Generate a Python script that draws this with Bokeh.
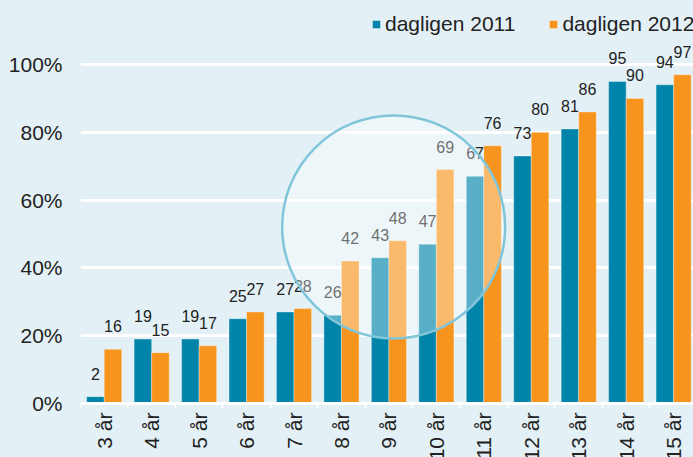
import numpy as np
from bokeh.plotting import figure
from bokeh.models import (ColumnDataSource, Range1d, FixedTicker, LinearAxis,
                          PrintfTickFormatter, Legend, LegendItem)
from bokeh.core.properties import value
from bokeh.embed import file_html
from bokeh.resources import INLINE

# ---- data ----
categories = ["3 år", "4 år", "5 år", "6 år", "7 år", "8 år", "9 år",
              "10 år", "11 år", "12 år", "13 år", "14 år", "15 år"]
dagligen_2011 = [2, 19, 19, 25, 27, 26, 43, 47, 67, 73, 81, 95, 94]
dagligen_2012 = [16, 15, 17, 27, 28, 42, 48, 69, 76, 80, 86, 90, 97]
series_names = ["dagligen 2011", "dagligen 2012"]
y_ticks = [0, 20, 40, 60, 80, 100]

# decoration: highlight circle (category index, percent)
highlight_x = [6.10]
highlight_y = [52.1]

# ---- style ----
BG = "#e3f1f6"
BLUE = "#0084a9"
ORANGE = "#f7941d"
FONT = "Liberation Sans"
TXT = "#222222"

W, H = 693, 457
n = len(categories)
idx = np.arange(n)
src = ColumnDataSource(dict(
    x11=idx - 0.185, x12=idx + 0.185,
    v11=dagligen_2011, v12=dagligen_2012,
    t11=[str(v) for v in dagligen_2011], t12=[str(v) for v in dagligen_2012],
))

p = figure(width=W, height=H, output_backend="svg", toolbar_location=None,
           x_range=Range1d(-0.5, 12.419), y_range=Range1d(-15.93, 118.88),
           x_axis_type=None, min_border_left=80, min_border_right=0,
           min_border_top=0, min_border_bottom=0,
           background_fill_color=BG, border_fill_color=BG, outline_line_color=None)

# y axis
p.yaxis.ticker = FixedTicker(ticks=y_ticks)
p.yaxis.formatter = PrintfTickFormatter(format="%d%%")
p.yaxis.axis_line_color = None
p.yaxis.major_tick_line_color = None
p.yaxis.minor_tick_line_color = None
p.yaxis.major_tick_out = 0
p.yaxis.major_label_standoff = 18
p.yaxis.major_label_text_font = FONT
p.yaxis.major_label_text_font_size = "21px"
p.yaxis.major_label_text_color = TXT

p.ygrid.ticker = FixedTicker(ticks=y_ticks)
p.ygrid.grid_line_color = "white"
p.ygrid.grid_line_width = 3

# x axis line + boundary ticks
tick_axis = LinearAxis(ticker=FixedTicker(ticks=[i - 0.5 for i in range(n + 1)]),
                       fixed_location=0, axis_line_color="white", axis_line_width=3,
                       major_tick_line_color="white", major_tick_line_width=2,
                       major_tick_out=5, major_tick_in=0, minor_tick_line_color=None,
                       major_label_text_color=None)
p.add_layout(tick_axis, "below")

# category labels
label_axis = LinearAxis(ticker=FixedTicker(ticks=list(range(n))),
                        major_label_overrides={i: c for i, c in enumerate(categories)},
                        fixed_location=0, axis_line_color=None,
                        major_tick_line_color=None, minor_tick_line_color=None,
                        major_tick_out=0, major_label_standoff=9,
                        major_label_orientation=np.pi / 2,
                        major_label_text_font=FONT, major_label_text_font_size="21px",
                        major_label_text_color=TXT)
p.add_layout(label_axis, "below")

# bars
r1 = p.vbar(x="x11", top="v11", bottom=0, width=0.37, source=src,
            fill_color=BLUE, line_color="white", line_alpha=0.35, line_width=1)
r2 = p.vbar(x="x12", top="v12", bottom=0, width=0.37, source=src,
            fill_color=ORANGE, line_color="white", line_alpha=0.35, line_width=1)

# value labels
for xs, ys, ts in (("x11", "v11", "t11"), ("x12", "v12", "t12")):
    p.text(x=xs, y=ys, text=ts, source=src, text_align="center",
           text_baseline="bottom", y_offset=-17, text_font=value(FONT),
           text_font_size="16px", text_color=TXT)

# highlight circle
p.scatter(x=highlight_x, y=highlight_y, marker="circle", size=223,
          fill_color="white", fill_alpha=0.35, line_color="#80c5da", line_width=2.5)

legend = Legend(items=[LegendItem(label=series_names[0], renderers=[r1]),
                       LegendItem(label=series_names[1], renderers=[r2])],
                orientation="horizontal", location=(291, H - 36),
                background_fill_alpha=0, border_line_color=None,
                label_text_font=FONT, label_text_font_size="21px",
                label_text_color=TXT, glyph_width=10, glyph_height=10,
                label_standoff=4, spacing=33, padding=0, margin=0)
p.add_layout(legend)

template = """
{% block preamble %}
<style>body { background: #e3f1f6; }</style>
{% endblock %}
"""

open("out.html", "w").write(file_html(p, INLINE, template=template))
